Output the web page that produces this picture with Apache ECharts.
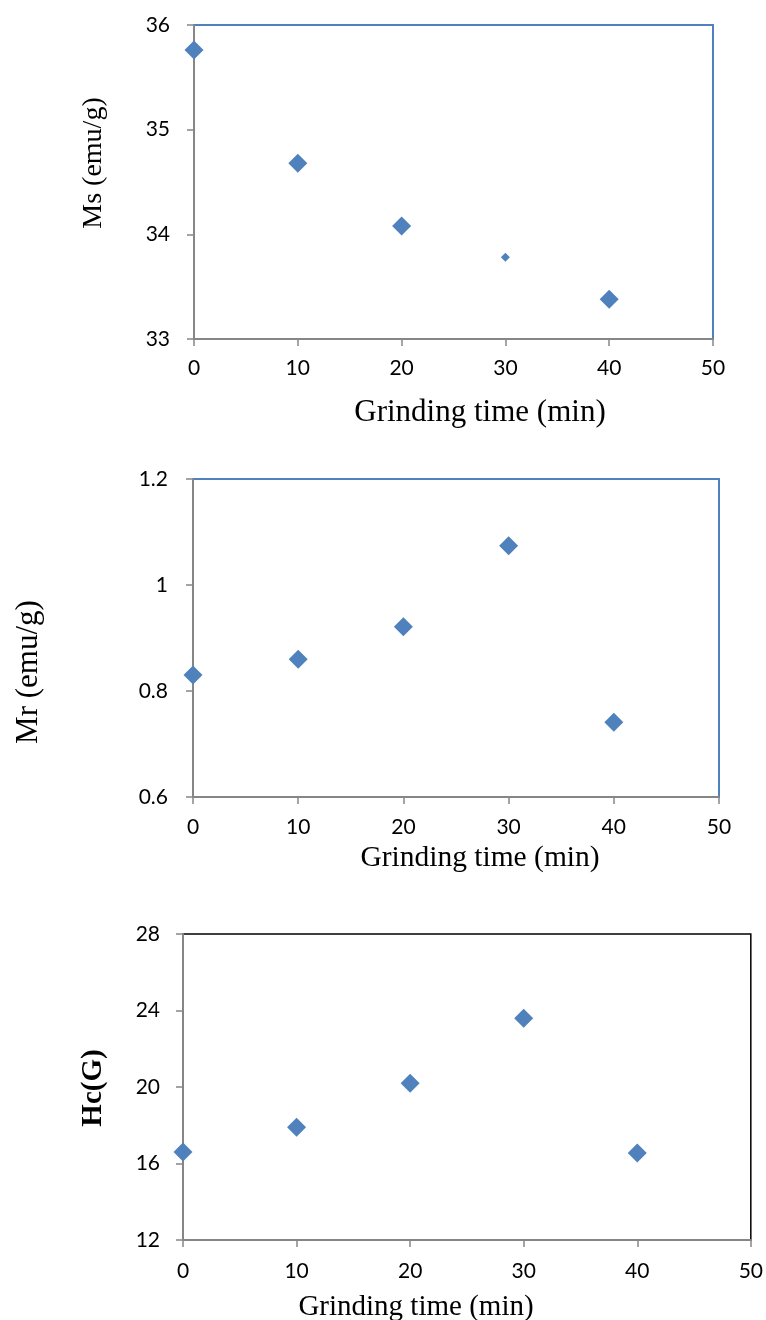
<!DOCTYPE html>
<html>
<head>
<meta charset="utf-8">
<script src="https://cdn.jsdelivr.net/npm/echarts@6/dist/echarts.min.js"></script>
<style>
  html, body { margin: 0; padding: 0; background: #fff; }
  #chart { width: 766px; height: 1320px; }
</style>
</head>
<body>
<div id="chart"></div>
<script>
// grinding time (min)
var times = [0, 10, 20, 30, 40];
// saturation magnetisation Ms (emu/g)
var msValues = [35.76, 34.68, 34.08, 33.78, 33.38];
// remanence Mr (emu/g)
var mrValues = [0.83, 0.86, 0.921, 1.074, 0.741];
// coercivity Hc (G)
var hcValues = [16.6, 17.9, 20.2, 23.6, 16.55];

var xTitle = 'Grinding time (min)';
var yTitles = ['Ms (emu/g)', 'Mr (emu/g)', 'Hc(G)'];

var blue = '#4F81BD';
var axisGray = '#868686';
var tickFont = 'Lato';
var titleFont = '"Liberation Serif", "Times New Roman", serif';

function pairs(ys) {
  return times.map(function (t, i) { return [t, ys[i]]; });
}

function xAxisFor(gridIndex, margin) {
  return {
    type: 'value', gridIndex: gridIndex,
    min: 0, max: 50, interval: 10,
    axisLine: {show: true, lineStyle: {color: axisGray, width: 2}},
    axisTick: {show: true, inside: false, length: 7, lineStyle: {color: axisGray, width: 1.5}},
    axisLabel: {color: '#000', fontFamily: tickFont, fontSize: 21, margin: margin},
    splitLine: {show: false}
  };
}

function yAxisFor(gridIndex, min, max, interval, margin) {
  return {
    type: 'value', gridIndex: gridIndex,
    min: min, max: max, interval: interval,
    axisLine: {show: true, lineStyle: {color: axisGray, width: 2}},
    axisTick: {show: true, inside: false, length: 7, lineStyle: {color: axisGray, width: 1.5}},
    axisLabel: {color: '#000', fontFamily: tickFont, fontSize: 21, margin: margin},
    splitLine: {show: false}
  };
}

function vTitle(text, x, y, size, bold) {
  return {
    type: 'text', x: x, y: y, rotation: Math.PI / 2,
    style: {
      text: text, fill: '#000',
      font: (bold ? 'bold ' : '') + size + 'px ' + titleFont,
      textAlign: 'center', textVerticalAlign: 'middle'
    }
  };
}

function hTitle(text, x, y, size) {
  return {
    type: 'text', x: x, y: y,
    style: {
      text: text, fill: '#000',
      font: size + 'px ' + titleFont,
      textAlign: 'center', textVerticalAlign: 'middle'
    }
  };
}

var chart = echarts.init(document.getElementById('chart'), null, {renderer: 'canvas'});

chart.setOption({
  backgroundColor: '#fff',
  animation: false,
  grid: [
    {left: 194, top: 25, width: 519, height: 314, show: true, borderColor: blue, borderWidth: 2, backgroundColor: 'transparent'},
    {left: 193, top: 479, width: 526, height: 318, show: true, borderColor: blue, borderWidth: 2, backgroundColor: 'transparent'},
    {left: 183, top: 934, width: 568, height: 306, show: true, borderColor: '#000', borderWidth: 1.5, backgroundColor: 'transparent'}
  ],
  xAxis: [xAxisFor(0, 19), xAxisFor(1, 20), xAxisFor(2, 21)],
  yAxis: [
    yAxisFor(0, 33, 36, 1, 24),
    yAxisFor(1, 0.6, 1.2, 0.2, 25),
    yAxisFor(2, 12, 28, 4, 23)
  ],
  series: [
    {
      type: 'scatter', xAxisIndex: 0, yAxisIndex: 0,
      symbol: 'diamond',
      symbolSize: function (v, p) { return p.dataIndex === 3 ? 9 : 19; },
      itemStyle: {color: blue, opacity: 1},
      data: pairs(msValues)
    },
    {
      type: 'scatter', xAxisIndex: 1, yAxisIndex: 1,
      symbol: 'diamond', symbolSize: 19,
      itemStyle: {color: blue, opacity: 1},
      data: pairs(mrValues)
    },
    {
      type: 'scatter', xAxisIndex: 2, yAxisIndex: 2,
      symbol: 'diamond', symbolSize: 19,
      itemStyle: {color: blue, opacity: 1},
      data: pairs(hcValues)
    }
  ],
  graphic: [
    vTitle(yTitles[0], 94, 163, 28, false),
    vTitle(yTitles[1], 29, 672, 31, false),
    vTitle(yTitles[2], 94, 1088, 29, true),
    hTitle(xTitle, 480, 413, 31),
    hTitle(xTitle, 480, 858, 29.5),
    hTitle(xTitle, 416, 1307, 29)
  ]
});
</script>
</body>
</html>
